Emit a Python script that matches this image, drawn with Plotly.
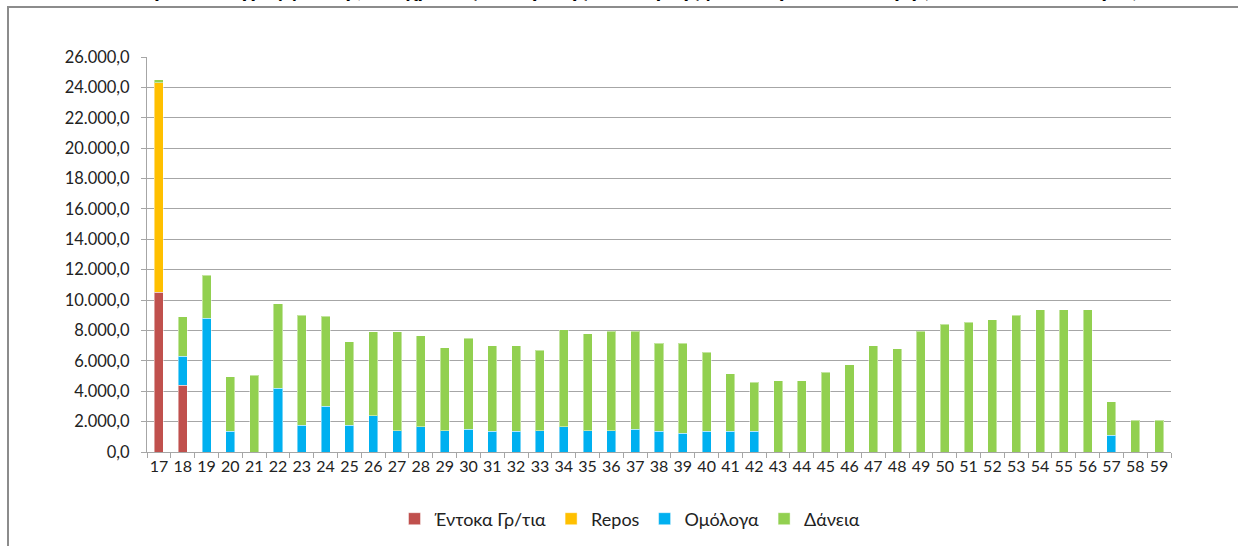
import plotly.graph_objects as go

years = [str(y) for y in range(17, 60)]

entoka = [10500, 4400] + [None] * 41
repos = [13800] + [None] * 42
omologa = [None, 1900, 8800, 1350, None, 4200, 1750, 3000, 1750, 2400, 1400, 1650,
           1400, 1500, 1350, 1350, 1400, 1650, 1400, 1400, 1500, 1350, 1250, 1350,
           1350, 1350, None, None, None, None, None, None, None, None, None, None,
           None, None, None, None, 1100, None, None]
daneia = [200, 2600, 2850, 3600, 5050, 5550, 7250, 5950, 5500, 5500, 6500, 6000,
          5450, 6000, 5650, 5650, 5300, 6400, 6400, 6550, 6450, 5800, 5900, 5200,
          3800, 3250, 4700, 4700, 5250, 5750, 7000, 6800, 7950, 8400, 8550, 8700,
          9000, 9350, 9350, 9350, 2200, 2100, 2100]

series = [
    ("Έντοκα Γρ/τια", entoka, "#C0504D"),
    ("Repos", repos, "#FFC000"),
    ("Ομόλογα", omologa, "#00B0F0"),
    ("Δάνεια", daneia, "#92D050"),
]

FONT = "Lato, 'Noto Sans', sans-serif"

fig = go.Figure()
for name, vals, col in series:
    fig.add_trace(go.Bar(
        x=years, y=vals, name=name,
        marker=dict(color=col, line=dict(color="rgba(255,255,255,0.45)", width=1)),
    ))

L, R, T, B = 147, 67, 57, 94
W, H = 1238, 546
pw, ph = W - L - R, H - T - B

def px_x(x):
    return (x - L) / pw

def px_y(y):
    return (H - B - y) / ph

fig.update_layout(
    width=W, height=H,
    barmode="stack", bargap=0.62,
    separators=",.",
    plot_bgcolor="white", paper_bgcolor="white",
    margin=dict(l=L, r=R, t=T, b=B, autoexpand=False),
    font=dict(family=FONT, size=15, color="#222222"),
    showlegend=True,
    legend=dict(orientation="h", x=px_x(630), xanchor="center", y=px_y(519), yanchor="middle",
                font=dict(size=18, color="#222222"), traceorder="normal",
                itemwidth=30, tracegroupgap=0),
    xaxis=dict(
        type="category", showgrid=False, showline=True, linecolor="#A6A6A6", linewidth=1,
        ticks="outside", tickson="boundaries", ticklen=5, tickcolor="#A6A6A6",
        tickfont=dict(size=16, color="#222222"), tickangle=0,
    ),
    yaxis=dict(
        range=[0, 26000], dtick=2000, tickformat=",.1f",
        showgrid=True, gridcolor="#A6A6A6", gridwidth=1.3,
        showline=True, linecolor="#A6A6A6", linewidth=1,
        ticks="outside", ticklen=5, tickcolor="#A6A6A6",
        tickfont=dict(size=16.5, color="#222222"), zeroline=False,
        ticklabelstandoff=8,
    ),
    shapes=[dict(type="rect", xref="paper", yref="paper",
                 x0=px_x(8), x1=px_x(1300), y0=px_y(7), y1=px_y(600),
                 line=dict(color="#8C8C8C", width=2), fillcolor="rgba(0,0,0,0)", layer="below")],
    annotations=[dict(
        text="Χρονοδιάγραμμα λήξεων χρέους Κεντρικής Διοίκησης μετά την ανταλλαγή (ποσά σε εκατ. ευρώ)",
        xref="paper", yref="paper", x=px_x(639), y=px_y(4), xanchor="center", yanchor="bottom",
        showarrow=False, font=dict(family=FONT, size=23, color="#000000", weight="bold"),
    )],
)

fig.write_html("out.html", config={"displayModeBar": False},
               post_script="document.body.style.margin='0';")
